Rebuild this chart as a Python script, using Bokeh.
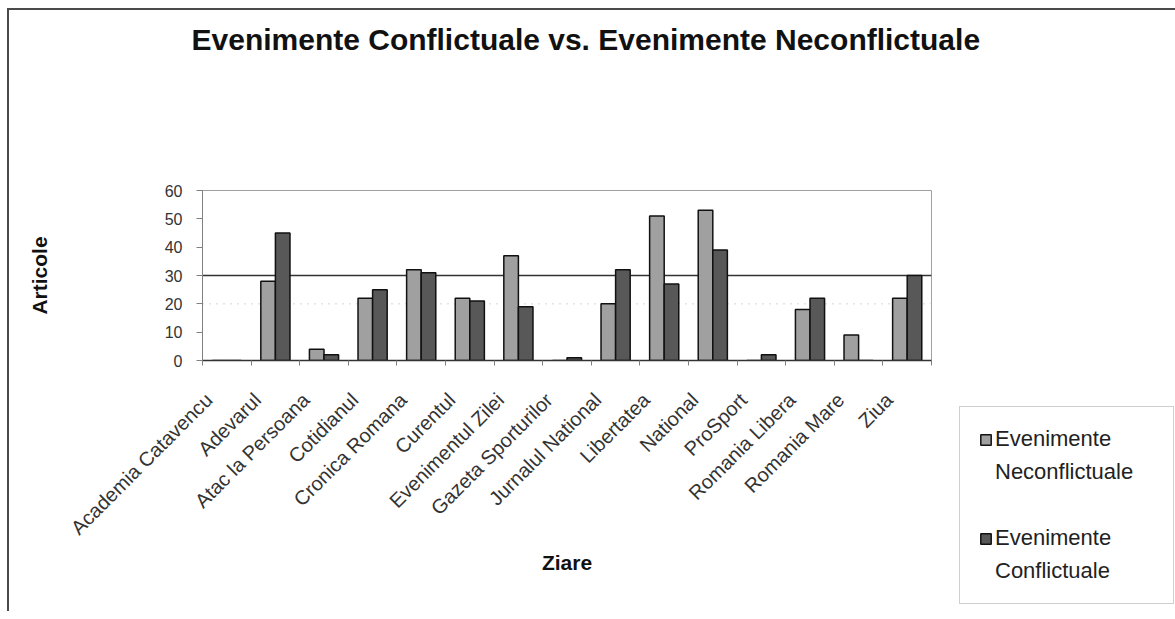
import numpy as np
from bokeh.plotting import figure
from bokeh.models import (ColumnDataSource, Range1d, FixedTicker, Legend,
                          LegendItem, Span, Title)
from bokeh.transform import dodge
from bokeh.embed import file_html
from bokeh.resources import INLINE

categories = ["Academia Catavencu", "Adevarul", "Atac la Persoana", "Cotidianul",
              "Cronica Romana", "Curentul", "Evenimentul Zilei", "Gazeta Sporturilor",
              "Jurnalul National", "Libertatea", "National", "ProSport",
              "Romania Libera", "Romania Mare", "Ziua"]
neconflictuale = [0, 28, 4, 22, 32, 22, 37, 0, 20, 51, 53, 0, 18, 9, 22]
conflictuale = [0, 45, 2, 25, 31, 21, 19, 1, 32, 27, 39, 2, 22, 0, 30]
y_ticks = [0, 10, 20, 30, 40, 50, 60]
legend_first_words = ["Evenimente", "Evenimente"]
legend_second_words = ["Neconflictuale", "Conflictuale"]

title_text = "Evenimente Conflictuale vs. Evenimente Neconflictuale"
x_title = "Ziare"
y_title = "Articole"

n = len(categories)
pos = np.arange(n) + 0.5
src = ColumnDataSource(dict(x=pos, cat=categories, nec=neconflictuale, con=conflictuale))

FONT = "Liberation Sans"
LIGHT = "#a0a0a0"
DARK = "#585858"

p = figure(width=1157, height=601, output_backend="svg", toolbar_location=None,
           title=None,
           x_range=Range1d(0, n), y_range=Range1d(0, 60),
           frame_width=729, frame_height=170,
           min_border_left=193, min_border_top=180,
           min_border_right=235, min_border_bottom=251)
p.styles = {"border-top": "2px solid #4a4a4a", "border-left": "2px solid #4a4a4a",
            "margin-left": "7px", "margin-top": "8px"}
p.background_fill_color = "white"
p.border_fill_color = "white"
p.outline_line_color = "#a0a0a0"
p.outline_line_width = 1

xax = p.below[0]
yax = p.left[0]

# spacer next to the frame, then the real title further up
spacer = Title(text="\u200b", text_font=FONT, text_font_size="10px", standoff=122)
main_title = Title(text=title_text, align="left", offset=-11, standoff=0,
                   text_font=FONT, text_font_size="30px", text_font_style="bold",
                   text_color="#111111")
p.add_layout(spacer, "above")
p.add_layout(main_title, "above")

r1 = p.vbar(x=dodge("x", -0.15), top="nec", width=0.3, source=src,
            fill_color=LIGHT, line_color="#111111", line_width=1.5)
r2 = p.vbar(x=dodge("x", 0.15), top="con", width=0.3, source=src,
            fill_color=DARK, line_color="#111111", line_width=1.5)
dummy = p.vbar(x=[], top=[], width=0.1, fill_alpha=0, line_alpha=0)

# grid
p.xgrid.visible = False
p.ygrid.ticker = FixedTicker(ticks=[30])
p.ygrid.grid_line_color = "#333333"
p.ygrid.grid_line_width = 1.3
p.add_layout(Span(location=20, dimension="width", line_color="#c8c8c8",
                  line_dash="1 6", line_width=1.5, level="underlay"))

# y axis
yax.ticker = FixedTicker(ticks=y_ticks)
yax.axis_line_color = "#808080"
yax.major_tick_line_color = "#808080"
yax.major_tick_out = 6
yax.major_tick_in = 0
yax.minor_tick_line_color = None
yax.major_label_text_font = FONT
yax.major_label_text_font_size = "16px"
yax.major_label_text_color = "#333333"
yax.major_label_standoff = 14
yax.axis_label = y_title
yax.axis_label_text_font = FONT
yax.axis_label_text_font_size = "21px"
yax.axis_label_text_font_style = "bold"
yax.axis_label_text_color = "#111111"
yax.axis_label_standoff = 111

# x axis
xax.ticker = FixedTicker(ticks=list(pos - 0.37), minor_ticks=list(range(n + 1)))
xax.major_label_overrides = {float(t - 0.37): c for t, c in zip(pos, categories)}
xax.major_label_orientation = np.pi / 4
xax.axis_line_color = "#333333"
xax.axis_line_width = 1.5
xax.major_tick_line_color = None
xax.major_tick_out = 0
xax.major_tick_in = 0
xax.minor_tick_line_color = "#808080"
xax.minor_tick_out = 5
xax.minor_tick_in = 0
xax.major_label_text_font = FONT
xax.major_label_text_font_size = "20px"
xax.major_label_text_color = "#333333"
xax.major_label_standoff = 31
xax.axis_label = x_title
xax.axis_label_text_font = FONT
xax.axis_label_text_font_size = "21px"
xax.axis_label_text_font_style = "bold"
xax.axis_label_text_color = "#111111"
xax.axis_label_standoff = 2

legend = Legend(items=[
    LegendItem(label=legend_first_words[0], renderers=[r1]),
    LegendItem(label=legend_second_words[0], renderers=[dummy]),
    LegendItem(label=" ", renderers=[dummy]),
    LegendItem(label=legend_first_words[1], renderers=[r2]),
    LegendItem(label=legend_second_words[1], renderers=[dummy]),
], location=(28, -244))
legend.label_text_font = FONT
legend.label_text_font_size = "22px"
legend.label_text_color = "#222222"
legend.glyph_width = 13
legend.glyph_height = 13
legend.label_standoff = 3
legend.label_width = 159
legend.label_height = 26
legend.spacing = 7
legend.padding = 19
legend.margin = 0
legend.border_line_color = "#a0a0a0"
legend.border_line_width = 1
legend.background_fill_color = "white"
legend.background_fill_alpha = 1
p.add_layout(legend, "right")

open("out.html", "w").write(file_html(p, INLINE))
